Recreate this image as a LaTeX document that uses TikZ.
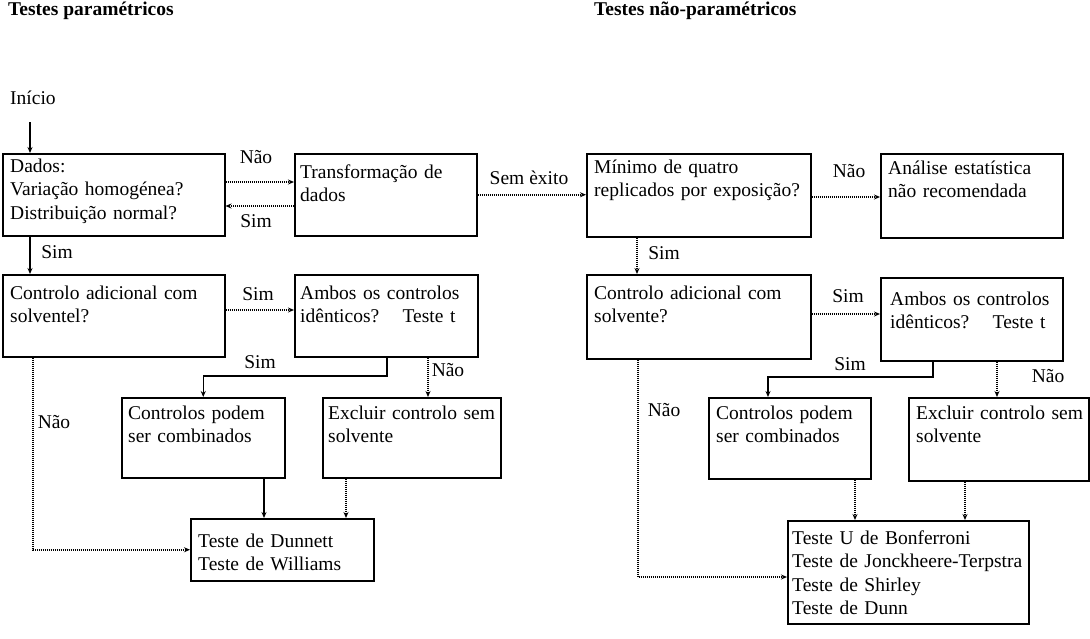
\documentclass[tikz,border=0pt]{standalone}
\usepackage{fontspec}
\setmainfont{Liberation Serif}
\usetikzlibrary{arrows.meta}
\begin{document}
\begin{tikzpicture}[x=1pt,y=-1pt,
  box/.style={draw,line width=1.5pt,inner sep=0pt,anchor=north west},
  txt/.style={anchor=base west,inner sep=0pt,align=left,text width=300pt,
    font=\fontsize{19.5}{23.5}\selectfont},
  lab/.style={inner sep=0pt,font=\fontsize{19.5}{23.5}\selectfont},
  ttl/.style={anchor=west,inner sep=0pt,font=\fontsize{19.5}{23.5}\selectfont\bfseries},
  tip/.style={-{Stealth[length=6pt,width=5pt]}},
  sline/.style={tip,line width=1.2pt},
  dline/.style={tip,line width=1.5pt,dash pattern=on 1.2pt off 0.8pt}]
\useasboundingbox (0,0) rectangle (1090,638);

% titles
\node[ttl] (t1) at (8,11) {Testes paramétricos};
\node[ttl] (t2) at (594,11) {Testes não-paramétricos};
\node[lab,anchor=base west] (ini) at (10,104) {Início};
\coordinate (st) at (30,122);

% boxes
\node[box,minimum width=222pt,minimum height=82pt] (A) at (2,153) {};
\node[box,minimum width=182pt,minimum height=82pt] (B) at (294,153) {};
\node[box,minimum width=224pt,minimum height=83pt] (C) at (586,153) {};
\node[box,minimum width=182pt,minimum height=84pt] (D) at (880,153) {};
\node[box,minimum width=222pt,minimum height=82pt] (E) at (2,274) {};
\node[box,minimum width=183pt,minimum height=82pt] (F) at (294,274) {};
\node[box,minimum width=163pt,minimum height=80pt] (G) at (121,397) {};
\node[box,minimum width=178pt,minimum height=80pt] (H) at (322,397) {};
\node[box,minimum width=183pt,minimum height=62pt] (I) at (190,518) {};
\node[box,minimum width=224pt,minimum height=84pt] (E2) at (586,274) {};
\node[box,minimum width=182pt,minimum height=83pt] (F2) at (880,277) {};
\node[box,minimum width=162pt,minimum height=81pt] (G2) at (708,397) {};
\node[box,minimum width=180pt,minimum height=83pt] (H2) at (908,397) {};
\node[box,minimum width=241pt,minimum height=103pt] (I2) at (787,520) {};

% texts
\node[txt] (At) at (10,172) {Dados:\\Variação homogénea?\\Distribuição normal?};
\node[txt] (Bt) at (300,178) {Transformação de\\dados};
\node[txt] (Ct) at (594,173) {Mínimo de quatro\\replicados por exposição?};
\node[txt] (Dt) at (888,174) {Análise estatística\\não recomendada};
\node[txt] (Et) at (10,299) {Controlo adicional com\\solventel?};
\node[txt] (Ft) at (300,299) {Ambos os controlos\\idênticos?\hspace{1.2em}Teste t};
\node[txt] (Gt) at (128,419) {Controlos podem\\ser combinados};
\node[txt] (Ht) at (328,419) {Excluir controlo sem\\solvente};
\node[txt] (It) at (198,547) {Teste de Dunnett\\Teste de Williams};
\node[txt] (E2t) at (594,299) {Controlo adicional com\\solvente?};
\node[txt] (F2t) at (890,305) {Ambos os controlos\\idênticos?\hspace{1.2em}Teste t};
\node[txt] (G2t) at (716,419) {Controlos podem\\ser combinados};
\node[txt] (H2t) at (916,419) {Excluir controlo sem\\solvente};
\node[txt] (I2t) at (792,544) {Teste U de Bonferroni\\Teste de Jonckheere-Terpstra\\Teste de Shirley\\Teste de Dunn};

% labels
\node[lab] (l1) at (256,157) {Não};
\node[lab] (l2) at (256,221) {Sim};
\node[lab] (l3) at (529,178) {Sem èxito};
\node[lab] (l4) at (849,171) {Não};
\node[lab] (l5) at (664,253) {Sim};
\node[lab] (l6) at (57,252) {Sim};
\node[lab] (l7) at (258,294) {Sim};
\node[lab] (l8) at (260,362) {Sim};
\node[lab] (l9) at (448,370) {Não};
\node[lab] (l10) at (54,422) {Não};
\node[lab] (l11) at (848,296) {Sim};
\node[lab] (l12) at (850,364) {Sim};
\node[lab] (l13) at (1048,376) {Não};
\node[lab] (l14) at (664,410) {Não};

% helper coordinates
\coordinate (x30) at (30,0);
\coordinate (x637) at (637,0);
\coordinate (y182) at (0,182);
\coordinate (y206) at (0,206);
\coordinate (y197) at (0,197);
\coordinate (y310) at (0,310);
\coordinate (y376) at (0,376);
\coordinate (x387) at (387,0);
\coordinate (x428) at (428,0);
\coordinate (x264) at (264,0);
\coordinate (x346) at (346,0);
\coordinate (x33) at (33,0);
\coordinate (y314) at (0,314);
\coordinate (x933) at (933,0);
\coordinate (y377) at (0,377);
\coordinate (x768) at (768,0);
\coordinate (x997) at (997,0);
\coordinate (x855) at (855,0);
\coordinate (x965) at (965,0);
\coordinate (x638) at (638,0);
\coordinate (y577) at (0,577);

% connectors left
\draw[sline] (st) -- (st |- A.north);
\draw[dline] (A.east |- y182) -- (B.west |- y182);
\draw[dline] (B.west |- y206) -- (A.east |- y206);
\draw[dline] (B.east) -- (B.east -| C.west);
\draw[dline] (C.east |- y197) -- (D.west |- y197);
\draw[dline] (x637 |- C.south) -- (x637 |- E2.north);
\draw[sline] (x30 |- A.south) -- (x30 |- E.north);
\draw[dline] (E.east |- y310) -- (F.west |- y310);
\draw[sline] (x387 |- F.south) -- (x387 |- y376) -| (G.north);
\draw[dline] (x428 |- F.south) -- (x428 |- H.north);
\draw[sline] (x264 |- G.south) -- (x264 |- I.north);
\draw[dline] (x346 |- H.south) -- (x346 |- I.north);
\draw[dline] (x33 |- E.south) |- (I.west);

% connectors right
\draw[dline] (E2.east |- y314) -- (F2.west |- y314);
\draw[sline] (x933 |- F2.south) -- (x933 |- y377) -| (x768 |- G2.north);
\draw[dline] (x997 |- F2.south) -- (x997 |- H2.north);
\draw[dline] (x855 |- G2.south) -- (x855 |- I2.north);
\draw[dline] (x965 |- H2.south) -- (x965 |- I2.north);
\draw[dline] (x638 |- E2.south) -- (x638 |- y577) -- (I2.west |- y577);
\end{tikzpicture}
\end{document}
